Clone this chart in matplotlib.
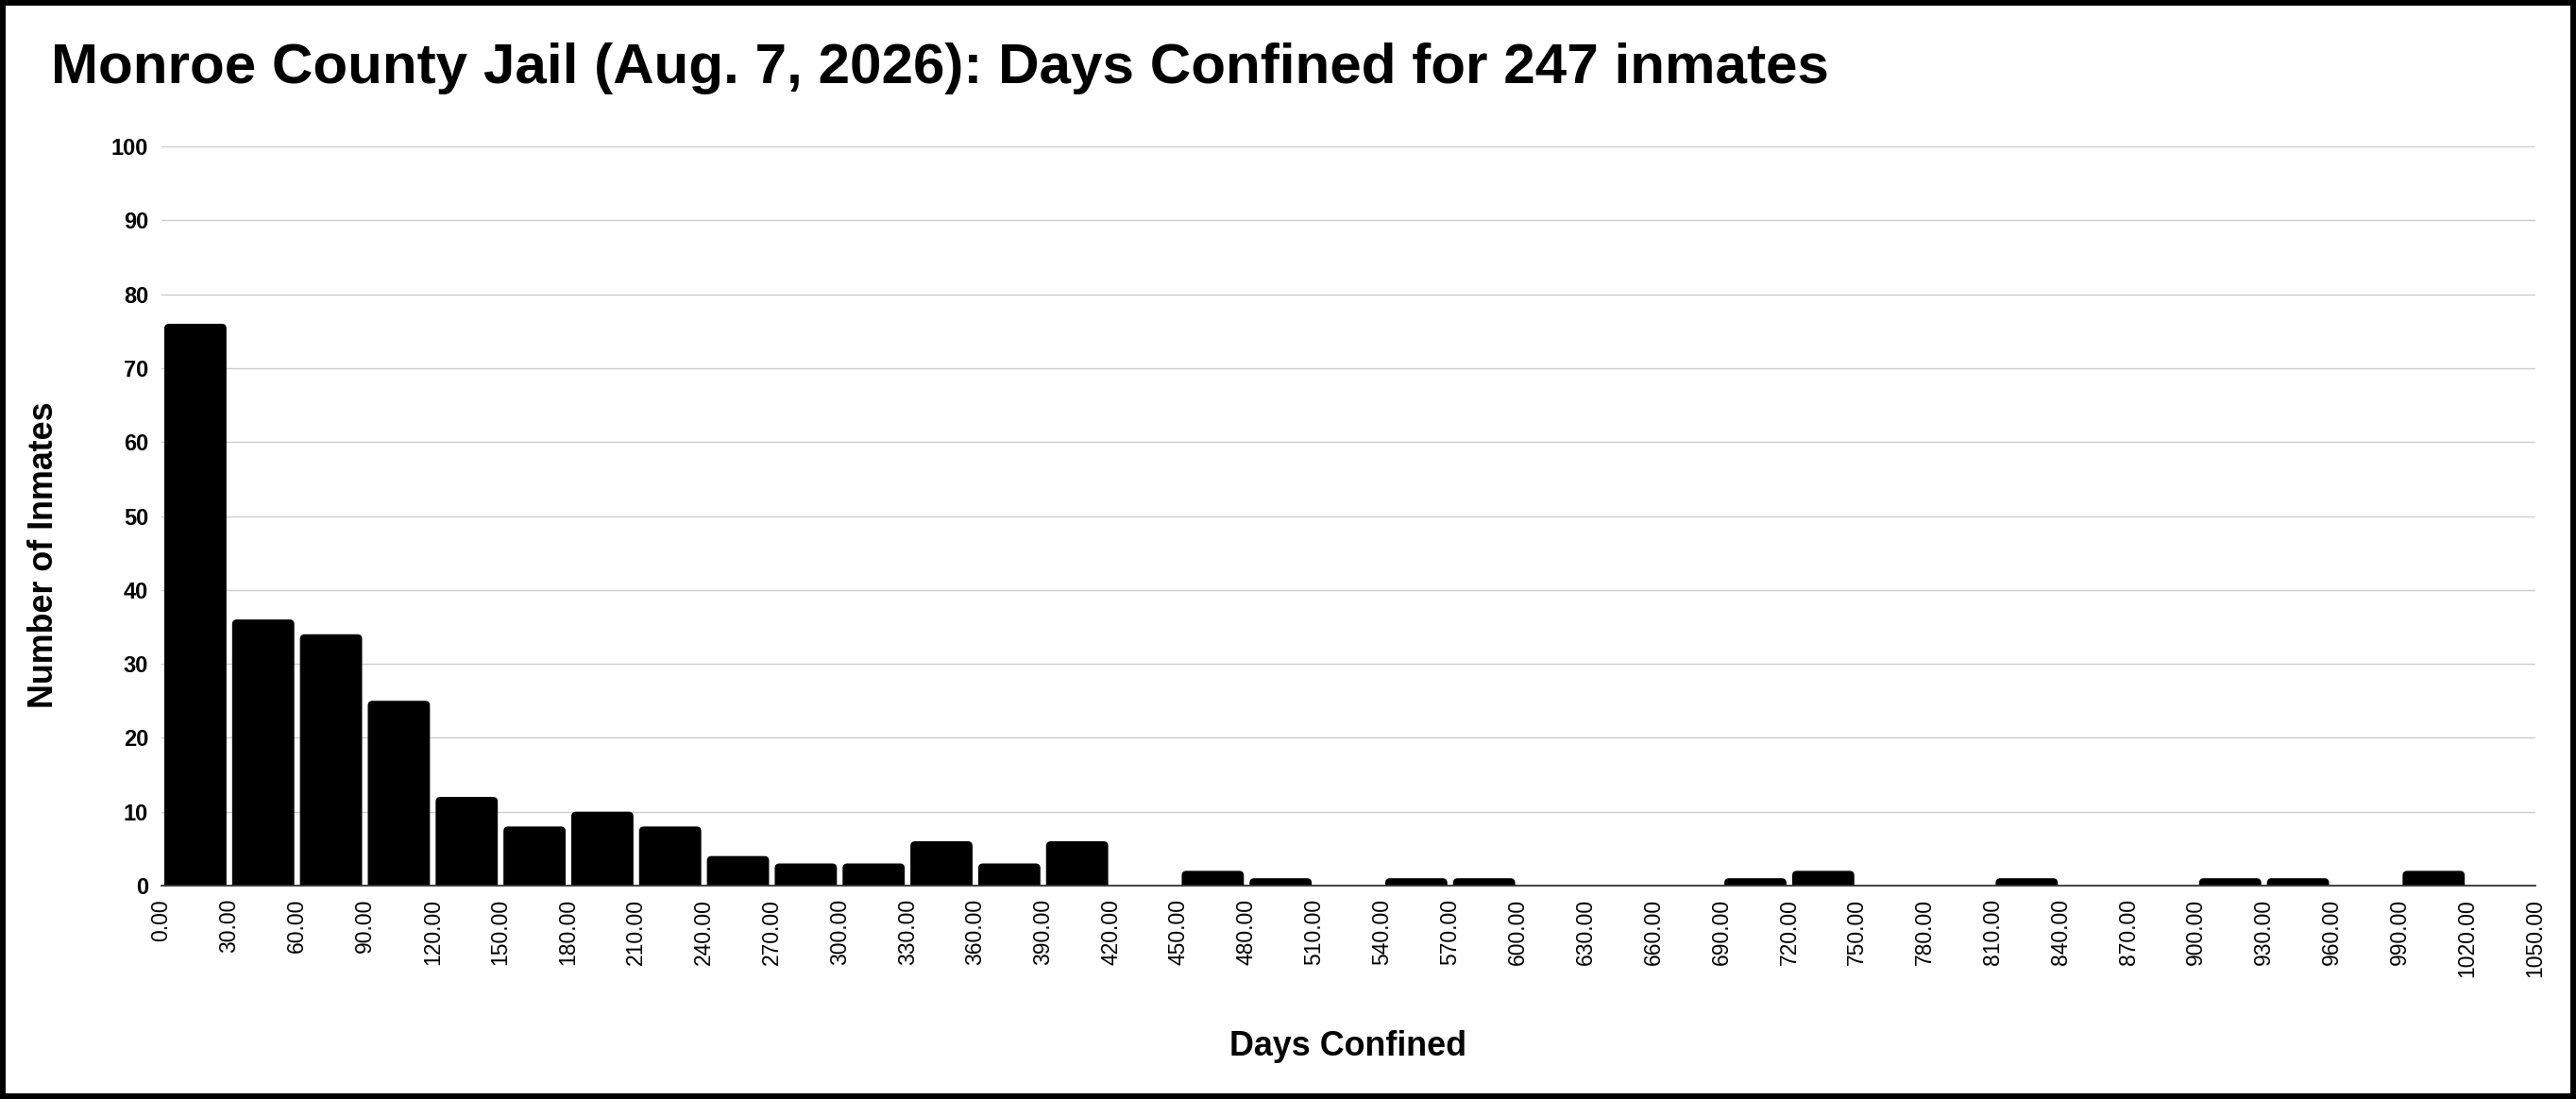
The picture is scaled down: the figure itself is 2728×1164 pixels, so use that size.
import numpy as np
import matplotlib
matplotlib.use("Agg")
import matplotlib.pyplot as plt
from matplotlib.patches import Rectangle, FancyBboxPatch

# Data: 30-day bins from 0 to 1050
bin_edges = list(range(0, 1051, 30))
counts = [76, 36, 34, 25, 12, 8, 10, 8, 4, 3, 3, 6, 3, 6, 0,
          2, 1, 0, 1, 1, 0, 0, 0, 1, 2, 0, 0, 1, 0, 0,
          1, 1, 0, 2, 0]
y_ticks = list(range(0, 101, 10))

title = "Monroe County Jail (Aug. 7, 2026): Days Confined for 247 inmates"
x_label = "Days Confined"
y_label = "Number of Inmates"

plt.rcParams['font.family'] = ['Liberation Sans', 'DejaVu Sans']

W, H = 2728, 1164
fig = plt.figure(figsize=(W / 100, H / 100), dpi=100)
ax = fig.add_axes([171 / W, 1 - 938 / H, (2685 - 171) / W, (938 - 155) / H])

ax.set_xlim(0, 1050)
ax.set_ylim(0, 100)

centers = np.array(bin_edges[:-1]) + 15
heights = np.array(counts)
mask = heights > 0
bars = ax.bar(centers[mask], heights[mask], width=27.5, color='black', zorder=3)

# swap the plain bars for ones with rounded top corners
px_x = 1050 / (2685 - 171)
px_y = 100 / (938 - 155)
radius = 5 * px_x
for rect in bars:
    x0, w, h = rect.get_x(), rect.get_width(), rect.get_height()
    rect.set_visible(False)
    ax.add_patch(FancyBboxPatch((x0, -2), w, h + 2,
                                boxstyle=f"round,pad=0,rounding_size={radius}",
                                mutation_aspect=px_y / px_x,
                                facecolor='black', edgecolor='none', zorder=3))

ax.set_xticks(bin_edges)
ax.set_xticklabels([f"{v:.2f}" for v in bin_edges], rotation=90,
                   fontsize=16.5, va='top', ha='center')
ax.set_yticks(y_ticks)
ax.set_yticklabels([str(v) for v in y_ticks], fontsize=17, fontweight='bold')
ax.tick_params(axis='both', length=0)
ax.tick_params(axis='x', pad=10)
ax.tick_params(axis='y', pad=10)

ax.grid(axis='y', color='#cccccc', linewidth=1.0, zorder=0)
ax.set_axisbelow(True)
for side in ['top', 'right', 'left']:
    ax.spines[side].set_visible(False)
ax.spines['bottom'].set_color('#333333')
ax.spines['bottom'].set_linewidth(1.3)
ax.spines['bottom'].set_zorder(4)

fig.text(54 / W, 1 - 88 / H, title, fontsize=43.3, fontweight='bold',
         ha='left', va='baseline')
fig.text(1428 / W, 1 - 1108 / H, x_label, fontsize=25.8, fontweight='bold',
         ha='center', va='center')
fig.text(47 / W, 1 - 588 / H, y_label, fontsize=25.8, fontweight='bold',
         ha='center', va='center', rotation=90)

# black frame round the picture
fig.patches.append(Rectangle((0, 0), 1, 1, transform=fig.transFigure,
                             fill=False, edgecolor='black', linewidth=8.6))

fig.savefig("out.png", dpi=100, facecolor='white')
